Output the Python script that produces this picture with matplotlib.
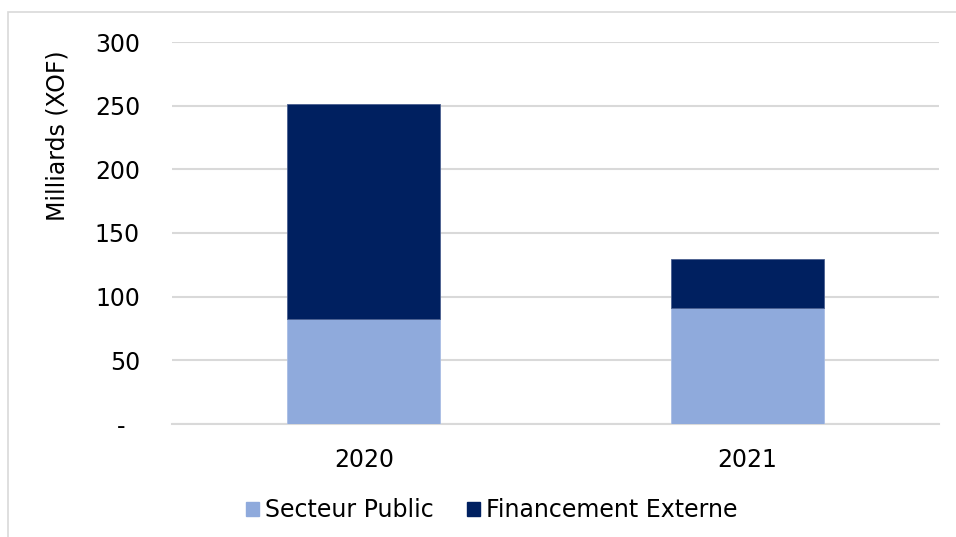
import matplotlib
matplotlib.use("Agg")
import matplotlib.pyplot as plt
from matplotlib.patches import Rectangle, Patch

# Data (milliards XOF)
years = ["2020", "2021"]
secteur_public = [82.5, 90.9]
financement_externe = [169.0, 38.9]
yticks = [0, 50, 100, 150, 200, 250, 300]
ytick_labels = ["-  ", "50", "100", "150", "200", "250", "300"]

light = "#8FAADC"
dark = "#002060"
grid = "#D9D9D9"
FS = 17

W, H, DPI = 956, 537, 100
fig = plt.figure(figsize=(W / DPI, H / DPI), dpi=DPI)
plt.rcParams["font.family"] = ["DejaVu Sans"]

# outer frame
fig.patches.append(Rectangle((8 / W, -0.1), 1.2, 1 - 12 / H + 0.1,
                             transform=fig.transFigure, fill=False,
                             edgecolor=grid, linewidth=1.2))

ax = fig.add_axes([172 / W, 1 - 424 / H, (939 - 172) / W, (424 - 42) / H])
x = range(len(years))
ax.bar(x, secteur_public, width=0.4, color=light, zorder=3,
       edgecolor="#A9BDE4", linewidth=0.6)
ax.bar(x, financement_externe, width=0.4, bottom=secteur_public, color=dark,
       zorder=3, edgecolor="#4A5F8F", linewidth=0.6)

ax.set_xlim(-0.5, 1.5)
ax.set_ylim(0, 300)
ax.set_yticks(yticks)
ax.set_yticklabels(ytick_labels, fontsize=FS)
ax.set_xticks(list(x))
ax.set_xticklabels(years, fontsize=FS)
ax.tick_params(axis="y", length=0, pad=23)
ax.tick_params(axis="x", length=0, pad=17)
ax.yaxis.grid(True, color=grid, linewidth=1.5, zorder=0)
for s in ["top", "right", "left"]:
    ax.spines[s].set_visible(False)
ax.spines["bottom"].set_color(grid)
ax.spines["bottom"].set_linewidth(1.5)

fig.text(57 / W, 1 - 136 / H, "Milliards (XOF)", rotation=90,
         ha="center", va="center", fontsize=FS)

handles = [Patch(color=light, label="Secteur Public"),
           Patch(color=dark, label="Financement Externe")]
fig.legend(handles=handles, loc="center", bbox_to_anchor=(492 / W, 1 - 510 / H),
           ncol=2, frameon=False, fontsize=FS, handlelength=0.55,
           handleheight=0.55, handletextpad=0.25, columnspacing=1.4)

fig.savefig("out.png", dpi=DPI)
